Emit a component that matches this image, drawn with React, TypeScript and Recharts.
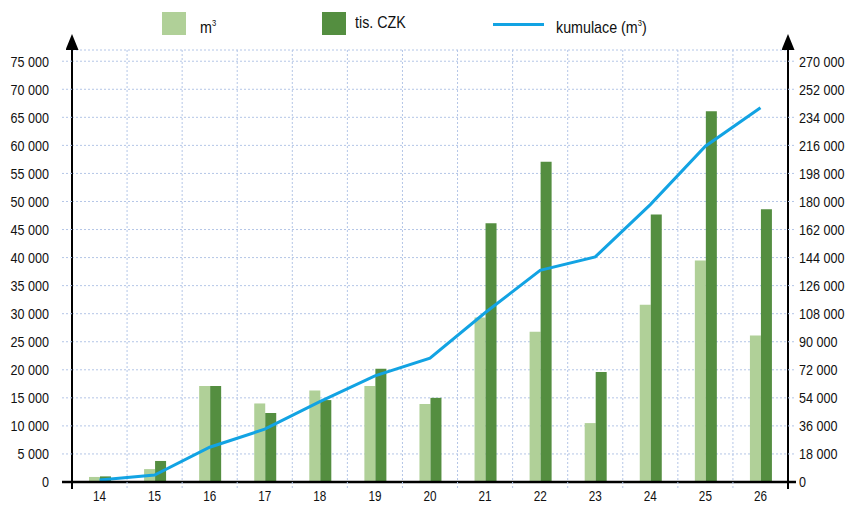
import React from "react";
import { ComposedChart, Bar, Line, XAxis, YAxis, CartesianGrid } from "recharts";

const weeks = ["14", "15", "16", "17", "18", "19", "20", "21", "22", "23", "24", "25", "26"];
const volumeM3 = [900, 2300, 17100, 14000, 16300, 17100, 13900, 29300, 26800, 10500, 31600, 39500, 26100];
const costCzk = [1000, 3750, 17100, 12300, 14600, 20200, 15000, 46100, 57100, 19600, 47700, 66100, 48600];
const cumulative = [1300, 4500, 22300, 33900, 51600, 68100, 79500, 108600, 135800, 144400, 178000, 215500, 240200];

const leftTicks = [0, 5000, 10000, 15000, 20000, 25000, 30000, 35000, 40000, 45000, 50000, 55000, 60000, 65000, 70000, 75000];
const rightTicks = [0, 18000, 36000, 54000, 72000, 90000, 108000, 126000, 144000, 162000, 180000, 198000, 216000, 234000, 252000, 270000];

const data = weeks.map((w, i) => ({
    week: w,
    m3: volumeM3[i],
    czk: costCzk[i],
    cum: cumulative[i],
}));

const LIGHT = "#b0d098";
const DARK = "#548e40";
const LINE = "#12a3e3";
const GRID = "#b4c6e7";
const FONT = "'Liberation Sans', Arial, sans-serif";
const NARROW = 0.84; // no narrow font installed, squeeze the regular one

const W = 846;
const H = 506;
const LEFT_W = 72;
const RIGHT_W = 58;
const BAND = (W - LEFT_W - RIGHT_W) / weeks.length;

const fmt = (v: number) => String(v).replace(/\B(?=(\d{3})+(?!\d))/g, " ");

function NarrowText({ x, y, anchor, dy, size, children }: any) {
    return (
        <g transform={`translate(${x},${y}) scale(${NARROW},1)`}>
            <text x={0} y={0} dy={dy} textAnchor={anchor} fontSize={size} fontFamily={FONT} fill="#111">
                {children}
            </text>
        </g>
    );
}

function LeftTick(props: any) {
    const { x, y, payload } = props;
    const zero = payload.value === 0;
    return (
        <g>
            <line x1={x - 10} x2={x} y1={y} y2={y} stroke={zero ? "#000" : GRID}
                strokeWidth={zero ? 2.5 : 1} strokeDasharray={zero ? undefined : "2 2"} />
            <NarrowText x={x - 23} y={y} dy="0.36em" anchor="end" size={15}>{fmt(payload.value)}</NarrowText>
        </g>
    );
}

function RightTick(props: any) {
    const { x, y, payload } = props;
    const zero = payload.value === 0;
    return (
        <g>
            <line x1={x} x2={x + 8} y1={y} y2={y} stroke={zero ? "#000" : GRID}
                strokeWidth={zero ? 2.5 : 1} strokeDasharray={zero ? undefined : "2 2"} />
            <NarrowText x={x + 11} y={y} dy="0.36em" anchor="start" size={15}>{fmt(payload.value)}</NarrowText>
        </g>
    );
}

function WeekTick(props: any) {
    const { x, y, payload, index } = props;
    const last = index === weeks.length - 1;
    return (
        <g>
            <line x1={x - BAND / 2} x2={x - BAND / 2} y1={y} y2={y + 7}
                stroke={index === 0 ? "#000" : GRID} strokeWidth={index === 0 ? 2 : 1}
                strokeDasharray={index === 0 ? undefined : "2 2"} />
            {last && <line x1={x + BAND / 2} x2={x + BAND / 2} y1={y} y2={y + 7} stroke="#000" strokeWidth={2} />}
            <NarrowText x={x} y={y + 9} dy="0.71em" anchor="middle" size={14}>{payload.value}</NarrowText>
        </g>
    );
}

const legendItems = [
    { name: "m", sup: "3", tail: "", color: LIGHT, kind: "box", x: 162, tx: 200 },
    { name: "tis. CZK", sup: "", tail: "", color: DARK, kind: "box", x: 322, tx: 355 },
    { name: "kumulace (m", sup: "3", tail: ")", color: LINE, kind: "line", x: 493, tx: 556 },
];

function ChartLegend() {
    return (
        <>
            {legendItems.map((it) => (
                <React.Fragment key={it.name}>
                    {it.kind === "box" ? (
                        <div style={{ position: "absolute", left: it.x, top: 12, width: 24, height: 23, background: it.color }} />
                    ) : (
                        <div style={{ position: "absolute", left: it.x, top: 23, width: 51, height: 3, background: it.color }} />
                    )}
                    <div style={{
                        position: "absolute", left: it.tx, top: 13, fontFamily: FONT, fontSize: 17, lineHeight: "20px",
                        color: "#111", whiteSpace: "nowrap", transform: `scaleX(${NARROW})`, transformOrigin: "left center",
                    }}>
                        {it.name}
                        {it.sup && <sup style={{ fontSize: 9, verticalAlign: "7px" }}>{it.sup}</sup>}
                        {it.tail}
                    </div>
                </React.Fragment>
            ))}
        </>
    );
}

export default function App() {
    return (
        <div style={{ position: "absolute", left: 0, top: 0, width: W, height: H, background: "#fff" }}>
            <svg width={0} height={0} style={{ position: "absolute" }}>
                <defs>
                    <marker id="axisArrow" markerUnits="userSpaceOnUse" markerWidth={16} markerHeight={13}
                        refX={0} refY={6.5} orient="auto-start-reverse" viewBox="0 0 16 13">
                        <path d="M0,0 L16,6.5 L0,13 Z" fill="#000" />
                    </marker>
                </defs>
            </svg>
            <ChartLegend />
            <ComposedChart width={W} height={H} data={data} barGap={0}
                margin={{ top: 50, right: 0, bottom: 0, left: 0 }}>
                <CartesianGrid yAxisId="left" stroke={GRID} strokeDasharray="2 2"
                    verticalCoordinatesGenerator={({ offset }: any) =>
                        weeks.slice(1).map((_, i) => offset.left + (i + 1) * (offset.width / weeks.length))
                    } />
                <XAxis dataKey="week" height={24} interval={0} tickSize={0} tickMargin={0} tickLine={false}
                    axisLine={{ stroke: "#000", strokeWidth: 2.5 }} tick={<WeekTick />} />
                <YAxis yAxisId="left" width={LEFT_W} domain={[0, 77000]} ticks={leftTicks} interval={0}
                    tickSize={0} tickMargin={0} tickLine={false}
                    axisLine={{ stroke: "#000", strokeWidth: 2, markerStart: "url(#axisArrow)" }} tick={<LeftTick />} />
                <YAxis yAxisId="right" orientation="right" width={RIGHT_W} domain={[0, 277200]} ticks={rightTicks} interval={0}
                    tickSize={0} tickMargin={0} tickLine={false}
                    axisLine={{ stroke: "#000", strokeWidth: 2, markerStart: "url(#axisArrow)" }} tick={<RightTick />} />
                <Bar yAxisId="left" dataKey="m3" fill={LIGHT} barSize={11} isAnimationActive={false} />
                <Bar yAxisId="left" dataKey="czk" fill={DARK} barSize={11} isAnimationActive={false} />
                <Line yAxisId="right" dataKey="cum" type="linear" stroke={LINE} strokeWidth={3} dot={false}
                    activeDot={false} isAnimationActive={false} />
            </ComposedChart>
        </div>
    );
}
